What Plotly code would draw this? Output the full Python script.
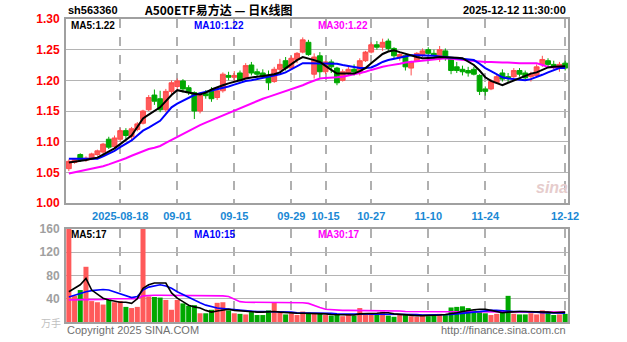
import plotly.graph_objects as go

# ---------------- data ----------------
aug = ["05","06","07","08","11","12","13","14","15","18","19","20","21","22","25","26","27","28","29"]
sep = ["01","02","03","04","05","08","09","10","11","12","15","16","17","18","19","22","23","24","25","26","29","30"]
octo = ["09","10","13","14","15","16","17","20","21","22","23","24","27","28","29","30","31"]
nov = ["03","04","05","06","07","10","11","12","13","14","17","18","19","20","21","24","25","26","27","28"]
dec = ["01","02","03","04","05","08","09","10","11","12"]
dates = (["2025-08-" + d for d in aug] + ["2025-09-" + d for d in sep] +
         ["2025-10-" + d for d in octo] + ["2025-11-" + d for d in nov] +
         ["2025-12-" + d for d in dec])

opens = [1.056,1.066,1.079,1.070,1.072,1.079,1.083,1.104,1.092,1.104,
         1.118,1.108,1.120,1.130,1.152,1.176,1.170,1.152,1.182,1.190,
         1.199,1.188,1.180,1.150,1.178,1.183,1.172,1.183,1.208,1.205,
         1.212,1.203,1.225,1.214,1.212,1.208,1.198,1.218,1.232,1.220,
         1.234,1.246,1.262,1.210,1.240,1.214,1.230,1.220,1.200,1.212,
         1.218,1.212,1.232,1.246,1.258,1.254,1.264,1.252,1.238,1.240,
         1.220,1.232,1.242,1.250,1.244,1.238,1.248,1.236,1.222,1.218,
         1.216,1.218,1.208,1.186,1.186,1.196,1.212,1.206,1.206,1.216,
         1.212,1.206,1.208,1.226,1.232,1.226,1.220,1.228]
highs = [1.071,1.073,1.081,1.076,1.082,1.087,1.098,1.108,1.110,1.122,
         1.122,1.124,1.132,1.152,1.176,1.185,1.183,1.186,1.200,1.203,
         1.202,1.192,1.182,1.180,1.184,1.189,1.186,1.213,1.214,1.215,
         1.216,1.228,1.230,1.219,1.218,1.216,1.222,1.235,1.238,1.240,
         1.246,1.270,1.266,1.244,1.246,1.232,1.234,1.222,1.218,1.224,
         1.226,1.236,1.248,1.262,1.264,1.268,1.268,1.254,1.244,1.242,
         1.232,1.246,1.252,1.254,1.250,1.256,1.252,1.238,1.230,1.224,
         1.222,1.222,1.210,1.190,1.202,1.210,1.218,1.212,1.220,1.220,
         1.216,1.214,1.226,1.240,1.236,1.232,1.230,1.232]
lows = [1.052,1.064,1.067,1.067,1.070,1.077,1.080,1.088,1.090,1.100,
        1.104,1.102,1.117,1.128,1.150,1.160,1.148,1.148,1.178,1.185,
        1.180,1.176,1.137,1.146,1.170,1.165,1.168,1.180,1.200,1.198,
        1.198,1.202,1.208,1.206,1.204,1.184,1.196,1.214,1.216,1.218,
        1.228,1.244,1.240,1.203,1.204,1.210,1.212,1.192,1.198,1.208,
        1.208,1.208,1.230,1.244,1.250,1.248,1.248,1.236,1.232,1.216,
        1.208,1.230,1.238,1.240,1.236,1.230,1.232,1.210,1.212,1.208,
        1.206,1.208,1.176,1.175,1.184,1.194,1.198,1.196,1.204,1.206,
        1.200,1.198,1.206,1.222,1.222,1.218,1.214,1.216]
closes = [1.068,1.071,1.070,1.073,1.080,1.085,1.096,1.091,1.106,1.118,
          1.110,1.121,1.129,1.150,1.172,1.166,1.152,1.182,1.196,1.199,
          1.186,1.180,1.150,1.176,1.175,1.170,1.183,1.210,1.205,1.208,
          1.200,1.224,1.212,1.210,1.206,1.196,1.218,1.226,1.220,1.236,
          1.244,1.266,1.242,1.238,1.214,1.230,1.222,1.196,1.214,1.218,
          1.214,1.232,1.246,1.258,1.254,1.262,1.252,1.240,1.242,1.222,
          1.230,1.244,1.248,1.244,1.240,1.250,1.236,1.216,1.216,1.214,
          1.212,1.210,1.182,1.182,1.198,1.206,1.202,1.204,1.216,1.210,
          1.204,1.210,1.222,1.234,1.226,1.222,1.226,1.220]

ma5 = [1.066,1.067,1.068,1.070,1.072,1.074,1.079,1.084,1.089,1.096,
       1.103,1.110,1.124,1.138,1.144,1.150,1.156,1.166,1.176,1.184,
       1.182,1.179,1.178,1.177,1.180,1.185,1.189,1.192,1.195,1.197,
       1.200,1.203,1.205,1.206,1.207,1.208,1.210,1.213,1.220,1.227,
       1.233,1.238,1.236,1.233,1.230,1.223,1.217,1.211,1.211,1.211,
       1.211,1.215,1.220,1.228,1.236,1.243,1.247,1.249,1.246,1.243,
       1.241,1.238,1.236,1.236,1.237,1.238,1.238,1.237,1.237,1.236,
       1.231,1.225,1.216,1.205,1.199,1.195,1.192,1.196,1.200,1.204,
       1.208,1.211,1.213,1.217,1.221,1.222,1.223,1.223]
ma10 = [1.072,1.072,1.071,1.071,1.072,1.072,1.076,1.080,1.085,1.091,
        1.097,1.102,1.110,1.118,1.123,1.129,1.134,1.145,1.156,1.162,
        1.167,1.172,1.176,1.179,1.181,1.183,1.185,1.187,1.190,1.193,
        1.196,1.199,1.200,1.202,1.204,1.205,1.208,1.210,1.213,1.218,
        1.223,1.228,1.228,1.228,1.228,1.228,1.228,1.227,1.225,1.223,
        1.221,1.220,1.220,1.221,1.225,1.230,1.233,1.235,1.238,1.240,
        1.241,1.241,1.241,1.241,1.240,1.239,1.238,1.237,1.236,1.235,
        1.234,1.233,1.227,1.220,1.215,1.210,1.205,1.203,1.202,1.201,
        1.200,1.202,1.205,1.209,1.213,1.217,1.220,1.220]
ma30 = [1.048,1.050,1.052,1.054,1.055,1.057,1.060,1.063,1.066,1.070,
        1.073,1.077,1.081,1.085,1.088,1.090,1.093,1.098,1.103,1.108,
        1.113,1.118,1.123,1.127,1.131,1.135,1.139,1.143,1.147,1.150,
        1.154,1.158,1.163,1.167,1.170,1.173,1.176,1.179,1.182,1.186,
        1.189,1.192,1.196,1.200,1.203,1.204,1.204,1.205,1.206,1.208,
        1.210,1.211,1.214,1.217,1.220,1.222,1.224,1.225,1.227,1.229,
        1.230,1.231,1.232,1.233,1.234,1.235,1.236,1.235,1.234,1.233,
        1.232,1.231,1.231,1.230,1.230,1.229,1.229,1.229,1.228,1.228,
        1.228,1.228,1.228,1.225,1.222,1.221,1.221,1.220]

volume = [190,45,55,95,36,34,30,38,34,36,
          26,24,26,200,44,43,42,38,21,38,
          32,28,29,15,15,21,33,34,20,15,
          14,13,17,12,12,20,34,16,13,15,
          12,18,16,14,15,12,11,13,10,12,
          11,24,12,13,14,18,11,9,12,12,
          10,9,11,10,12,14,13,25,26,27,
          24,20,19,15,12,14,16,45,14,13,
          13,15,13,20,18,12,13,14]
vma5 = [52,58,64,75,55,48,41,38,36,34,
        34,32,40,58,64,67,67,67,50,41,
        35,29,26,24,20,17,19,21,22,20,
        19,18,17,17,17,18,18,17,16,16,
        15,15,15,15,15,14,13,13,12,12,
        12,14,14,14,15,16,16,14,13,12,
        12,11,11,11,11,12,13,14,16,18,
        20,21,22,22,20,18,16,17,18,18,
        18,18,17,17,17,16,16,17]
vma10 = [43,46,50,52,54,55,56,55,52,48,
         45,42,44,55,60,62,64,62,58,52,
         47,43,38,33,29,26,24,23,22,21,
         20,19,19,18,18,18,18,18,17,17,
         16,16,16,16,15,15,15,14,14,13,
         13,13,13,13,13,14,14,14,14,14,
         13,13,12,12,12,12,13,13,14,15,
         17,18,19,20,20,20,19,18,18,18,
         18,17,17,16,16,16,15,15]
vma30 = [38,38,38,39,39,39,39,40,40,40,
         40,40,40,45,46,46,46,46,46,46,
         46,46,46,46,46,46,46,45,44,40,
         35,34,34,34,34,34,34,34,34,33,
         33,33,32,28,25,22,21,21,20,20,
         20,20,20,19,19,19,19,19,19,18,
         18,18,18,18,18,18,18,18,18,18,
         18,18,18,18,18,18,18,17,17,17,
         17,17,17,17,17,17,17,17]

tick_dates = ["2025-08-18","2025-09-01","2025-09-15","2025-09-29","2025-10-15",
              "2025-10-27","2025-11-10","2025-11-24","2025-12-12"]
tick_labels = ["2025-08-18","09-01","09-15","09-29","10-15","10-27","11-10","11-24","12-12"]
price_ticks = [1.00,1.05,1.10,1.15,1.20,1.25,1.30]
vol_ticks = [40,80,120,160]

# ---------------- figure ----------------
W, H = 627, 342
L, R, T, B = 66, 59, 19, 20
PW, PH = W - L - R, H - T - B

def px(x, y):
    return (x - L) / PW, (H - B - y) / PH

RED = "#ff5a5a"
GREEN = "#00a800"
fig = go.Figure()

fig.add_trace(go.Candlestick(
    x=dates, open=opens, high=highs, low=lows, close=closes,
    increasing=dict(line=dict(color="#ff4c4c", width=1), fillcolor=RED),
    decreasing=dict(line=dict(color=GREEN, width=1), fillcolor=GREEN),
    whiskerwidth=0, showlegend=False, hoverinfo="skip",
    xaxis="x", yaxis="y"))
for vals, col in [(ma30, "#ff00ff"), (ma10, "#0000ff"), (ma5, "#000000")]:
    fig.add_trace(go.Scatter(x=dates, y=vals, mode="lines",
                             line=dict(color=col, width=2), showlegend=False,
                             hoverinfo="skip", xaxis="x", yaxis="y"))

bar_colors = [RED if c >= o else GREEN for o, c in zip(opens, closes)]
fig.add_trace(go.Bar(x=dates, y=volume, marker=dict(color=bar_colors, line=dict(width=0)),
                     showlegend=False, hoverinfo="skip", xaxis="x2", yaxis="y2"))
for vals, col in [(vma30, "#ff00ff"), (vma10, "#0000ff"), (vma5, "#000000")]:
    fig.add_trace(go.Scatter(x=dates, y=vals, mode="lines",
                             line=dict(color=col, width=1.6), showlegend=False,
                             hoverinfo="skip", xaxis="x2", yaxis="y2"))

main_bottom = (H - B - 203) / PH
vol_top = (H - B - 229) / PH

xcommon = dict(type="category", categoryorder="array", categoryarray=dates,
               tickmode="array", tickvals=tick_dates,
               showgrid=True, gridcolor="#b0b0b0", griddash="dash", gridwidth=2,
               showline=True, mirror=True, linecolor="#a0a0a0", linewidth=2,
               zeroline=False, fixedrange=True)
fig.update_layout(
    width=W, height=H, margin=dict(l=L, r=R, t=T, b=B),
    paper_bgcolor="white", plot_bgcolor="white",
    bargap=0.12, boxgap=0.15, boxgroupgap=0,
    font=dict(family="Liberation Sans, DejaVu Sans, sans-serif"),
    xaxis=dict(xcommon, domain=[0, 1], anchor="y", ticktext=tick_labels,
               rangeslider=dict(visible=False), ticks="",
               tickfont=dict(color="#1a88d4", size=11, weight="bold"), ticklabelstandoff=2),
    yaxis=dict(domain=[main_bottom, 1], range=[1.0, 1.3], tickmode="array",
               tickvals=price_ticks, ticktext=["%.2f" % v for v in price_ticks],
               tickfont=dict(color="#ff0000", size=12, weight="bold"),
               showgrid=True, gridcolor="#b4b4b4", gridwidth=1,
               showline=True, mirror=True, linecolor="#a0a0a0", linewidth=2,
               zeroline=False, ticks="", ticklabelstandoff=2, fixedrange=True),
    xaxis2=dict(xcommon, domain=[0, 1], anchor="y2", matches="x", showticklabels=False,
                ticks=""),
    yaxis2=dict(domain=[0, vol_top], range=[0, 160], tickmode="array",
                tickvals=vol_ticks, ticktext=[str(v) for v in vol_ticks],
                tickfont=dict(color="#a0a0a0", size=12, weight="bold"),
                showgrid=True, gridcolor="#b4b4b4", gridwidth=1,
                showline=True, mirror=True, linecolor="#a0a0a0", linewidth=2,
                zeroline=False, ticks="", ticklabelstandoff=2, fixedrange=True),
)

annos = []
def txt(x, y, s, color="#000", size=11, anchor="left", bold=True, family=None):
    ax, ay = px(x, y)
    f = dict(color=color, size=size, weight="bold" if bold else "normal")
    if family:
        f["family"] = family
    annos.append(dict(x=ax, y=ay, xref="paper", yref="paper", text=s, showarrow=False,
                      xanchor=anchor, yanchor="middle", font=f))

txt(66, 10, "sh563360", size=11)
txt(218, 10, "A500ETF易方达 — 日K线图", size=12, anchor="center",
    family="Noto Sans CJK SC, sans-serif")
txt(568, 10, "2025-12-12 11:30:00", size=11, anchor="right")
txt(69, 25, "MA5:%.2f" % ma5[-1], color="#000000", size=10)
txt(192, 25, "MA10:%.2f" % ma10[-1], color="#0000ff", size=10)
txt(316, 25, "MA30:%.2f" % ma30[-1], color="#ff00ff", size=10)
txt(69, 234, "MA5:%d" % vma5[-1], color="#000000", size=10)
txt(192, 234, "MA10:%d" % vma10[-1], color="#0000ff", size=10)
txt(316, 234, "MA30:%d" % vma30[-1], color="#ff00ff", size=10)
txt(63, 322, "万手", color="#c0c0c0", size=10, anchor="right", bold=False,
    family="Noto Sans CJK SC, sans-serif")
txt(65, 330, "Copyright 2025 SINA.COM", color="#707070", size=11, bold=False)
txt(568, 330, "http://finance.sina.com.cn", color="#707070", size=11, anchor="right", bold=False)
txt(552, 187, "<i>sina</i>", color="#e6cccc", size=16, anchor="center")
fig.update_layout(annotations=annos)

fig.write_html("out.html")
